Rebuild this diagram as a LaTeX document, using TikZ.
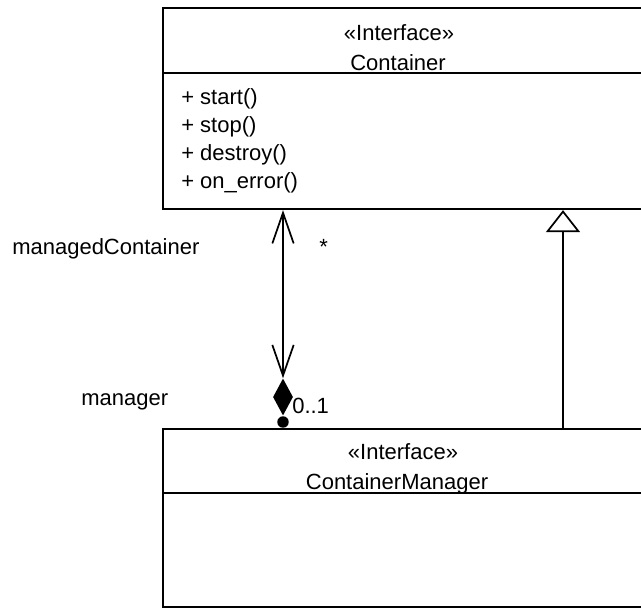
\documentclass[tikz,border=0pt]{standalone}
\usepackage{fontspec}
\setmainfont{Liberation Sans}
\usetikzlibrary{arrows.meta,calc,positioning,shapes.geometric}
\newcommand\umlfont{\fontsize{16.5}{19.5}\selectfont}
\tikzset{classbox/.style={draw, line width=1.6pt, inner sep=0pt, anchor=north west},
  cname/.style={font=\umlfont, anchor=base, inner sep=0pt},
  member/.style={font=\umlfont, anchor=base west, inner sep=0pt},
  rolelbl/.style={font=\umlfont, anchor=base west, inner sep=0pt},
  assoc/.style={line width=1.3pt,
    {Straight Barb[length=23pt,width=16pt]}-{Straight Barb[length=23pt,width=16pt]}},
  inherit/.style={line width=1.3pt, -{Triangle[fill=white, length=16.5pt, width=25.5pt]}},
  agg/.style={diamond, fill, inner sep=0pt, minimum width=15pt, minimum height=27.75pt},
  ownerdot/.style={circle, fill, inner sep=0pt, minimum size=8.6pt}}

\begin{document}
\begin{tikzpicture}[x=0.75pt, y=-0.75pt]
  \useasboundingbox (0,0) rectangle (641,608);
  \clip (0,0) rectangle (641,608);
  % interface Container
  \node[classbox, minimum width=375pt, minimum height=150.75pt] (cont) at (162,7) {};
  \draw[line width=1.6pt] ($(cont.north west)+(0,66)$) -- ($(cont.north east)+(0,66)$);
  \node[cname] (contst) at (399,40) {«Interface»};
  \node[cname] (contnm) at (398,70) {Container};
  \foreach \m [count=\i] in {start(),stop(),destroy(),on\_error()}
    \node[member] (op\i) at (181,76+28*\i) {+ \m};
  % interface ContainerManager
  \node[classbox, minimum width=375pt, minimum height=133.5pt] (mgr) at (162,428) {};
  \draw[line width=1.6pt] ($(mgr.north west)+(0,65)$) -- ($(mgr.north east)+(0,65)$);
  \node[cname] (mgrst) at (403,459) {«Interface»};
  \node[cname] (mgrnm) at (397,489) {ContainerManager};
  % composition end on the manager side
  \node[ownerdot] (own) at (283,422) {};
  \node[agg] (dia) at (283,397) {};
  \draw[assoc] (cont.south -| dia) -- (dia.north);
  % generalization
  \draw[inherit] ($(mgr.north west)+(401,0)$) -- ($(cont.south west)+(401,0)$);
  % role names and multiplicities
  \node[rolelbl] (rolecont) at (12,254) {managedContainer};
  \node[rolelbl] (multcont) at (319,254) {*};
  \node[rolelbl] (rolemgr) at (81,405) {manager};
  \node[rolelbl] (multmgr) at (292,413) {0..1};
\end{tikzpicture}
\end{document}
